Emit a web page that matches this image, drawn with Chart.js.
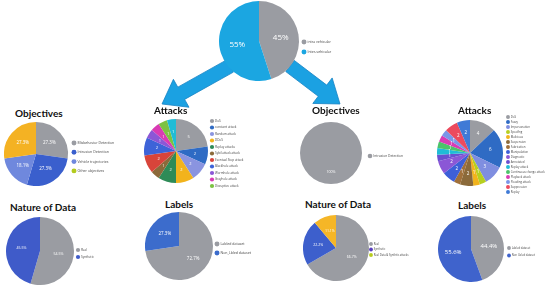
<!DOCTYPE html>
<html>
<head>
<meta charset="utf-8">
<script src="https://cdn.jsdelivr.net/npm/chart.js@4.4.1/dist/chart.umd.min.js"></script>
<style>
  body { margin: 0; width: 550px; height: 290px; background: #fff; position: relative; overflow: hidden; }
  canvas { position: absolute; }
  .title { position: absolute; font-family: Lato, sans-serif; font-weight: 700; font-size: 10px; line-height: 1; color: #111; white-space: nowrap; }
  #arrows { position: absolute; left: 0; top: 0; }
</style>
</head>
<body>
<svg id="arrows" width="550" height="290"></svg>
<canvas id="vehicular"></canvas>
<canvas id="objA"></canvas>
<canvas id="attA"></canvas>
<canvas id="objB"></canvas>
<canvas id="attB"></canvas>
<canvas id="natA"></canvas>
<canvas id="labA"></canvas>
<canvas id="natB"></canvas>
<canvas id="labB"></canvas>
<div class="title" style="left:15px;top:108px">Objectives</div>
<div class="title" style="left:154px;top:105px">Attacks</div>
<div class="title" style="left:312px;top:105px">Objectives</div>
<div class="title" style="left:458px;top:105px">Attacks</div>
<div class="title" style="left:10px;top:202px">Nature of Data</div>
<div class="title" style="left:165px;top:199px">Labels</div>
<div class="title" style="left:305px;top:199px">Nature of Data</div>
<div class="title" style="left:458px;top:200px">Labels</div>
<script>
// --- data ---
const vehicularLabels = ["intra vehicular", "Inter-vehicular"];
const vehicularValues = [45, 55];

const objALabels = ["Misbehavior Detection", "Intrusion Detection", "Vehicle trajectories", "Other objectives"];
const objAValues = [27.3, 27.3, 18.1, 27.3];

const attALabels = ["DoS", "constant attack", "Random attack", "DDoS", "Replay attacks", "Sybil attack attack",
  "Eventual Stop attack", "Blackhole attack", "Wormhole attack", "Grayhole attack", "Disruptive attack", ""];
const attAValues = [5, 2, 2, 2, 2, 1, 2, 2, 1, 1, 1, 1];

const objBLabels = ["Intrusion Detection"];
const objBValues = [100];

const attBLabels = ["DoS", "Fuzzy", "Impersonation", "Spoofing", "Malicious", "Suspension", "Fabrication",
  "Manipulation", "Diagnostic", "Annotated", "Replay attack", "Continuous change attack", "Playback attack",
  "Flooding attack", "Suppression", "Replay"];
const attBValues = [4, 6, 3, 1, 1, 2, 1, 2, 2, 1, 1, 1, 1, 1, 2, 2];

const natALabels = ["Real", "Synthetic"];
const natAValues = [54.5, 45.5];

const labALabels = ["Labled dataset", "Non_Lbled dataset"];
const labAValues = [72.7, 27.3];

const natBLabels = ["Real", "Synthetic", "Real Data & Synthtic attacks"];
const natBValues = [66.7, 22.2, 11.1];

const labBLabels = ["Labled dataset", "Non_Lbled dataset"];
const labBValues = [44.4, 55.6];

// --- styles ---
const GRAY = "#9a9ca2";
const pct0 = (v) => v + "%";
const pct1 = (v) => v.toFixed(1) + "%";
const count = (v) => String(v);

// legend keeps a fixed width and can be nudged to its place
const fixedLegend = {
  id: "fixedLegend",
  beforeInit(chart, args, opts) {
    const legend = chart.legend;
    const fit = legend.fit;
    legend.fit = function () {
      fit.call(this);
      this.width = opts.width;
    };
    const draw = legend.draw;
    legend.draw = function () {
      const c = this.ctx;
      c.save();
      c.translate(opts.dx, opts.dy);
      draw.call(this);
      c.restore();
    };
  }
};

// white value texts inside the slices
const sliceLabels = {
  id: "sliceLabels",
  afterDatasetsDraw(chart, args, opts) {
    const ctx = chart.ctx;
    const meta = chart.getDatasetMeta(0);
    ctx.save();
    ctx.fillStyle = "#fff";
    ctx.font = opts.size + "px 'Open Sans'";
    ctx.textAlign = "center";
    ctx.textBaseline = "middle";
    meta.data.forEach((arc, i) => {
      const a = (arc.startAngle + arc.endAngle) / 2;
      const rr = arc.outerRadius * opts.dist;
      ctx.fillText(opts.texts[i], arc.x + Math.cos(a) * rr, arc.y + Math.sin(a) * rr);
    });
    ctx.restore();
  }
};

const make_pie = (id, labels, values, colors, o) => {
  const canvas = document.getElementById(id);
  const pad = o.sp - o.fs;
  const n = labels.filter((l) => l !== "").length;
  const h = Math.max(2 * o.r, n * o.sp + 2 * pad + 4);
  const top = o.cy - h / 2;
  canvas.width = 2 * o.r + o.lw;
  canvas.height = h;
  canvas.style.left = (o.cx - o.r) + "px";
  canvas.style.top = top + "px";
  const firstY = top + (pad + h - n * (o.fs + pad)) / 2 + o.fs / 2;
  const firstX = o.cx + o.r + pad + o.fs / 2;
  return new Chart(canvas, {
    type: "pie",
    data: {
      labels: labels,
      datasets: [{ data: values, backgroundColor: colors, borderWidth: 0, hoverOffset: 0 }]
    },
    options: {
      responsive: false,
      animation: false,
      events: [],
      layout: { padding: 0 },
      plugins: {
        tooltip: { enabled: false },
        legend: {
          position: "right",
          labels: {
            usePointStyle: true,
            pointStyle: "circle",
            font: { family: "Open Sans", size: o.fs },
            color: "#444",
            padding: pad,
            filter: (item) => item.text !== "",
            generateLabels: (chart) => {
              const items = Chart.overrides.pie.plugins.legend.labels.generateLabels(chart);
              if (o.legendColors) {
                items.forEach((it, i) => { it.fillStyle = o.legendColors[i]; it.strokeStyle = o.legendColors[i]; });
              }
              return items;
            }
          }
        },
        fixedLegend: { width: o.lw, dx: o.lx - firstX, dy: o.ly - firstY },
        sliceLabels: { size: o.ls, dist: o.dist || 0.55, texts: values.map(o.fmt) }
      }
    },
    plugins: [fixedLegend, sliceLabels]
  });
};

make_pie("vehicular", vehicularLabels, vehicularValues, [GRAY, "#1ba6e1"],
  { cx: 259, cy: 41, r: 40, lw: 50, fs: 3.5, sp: 10, lx: 304, ly: 42, ls: 8, fmt: pct0 });

make_pie("objA", objALabels, objAValues, [GRAY, "#3a5fcd", "#6f88dd", "#f4b223"],
  { cx: 36, cy: 154, r: 32, lw: 75, fs: 3.5, sp: 9.3, lx: 74, ly: 143, ls: 4.5, fmt: pct1,
    legendColors: [GRAY, "#3a5fcd", "#6f88dd", "#b3cb1e"] });

make_pie("attA", attALabels, attAValues,
  [GRAY, "#2f6bc4", "#8a94e0", "#f2b31c", "#2e8b57", "#8b6a3a", "#d8443a", "#3d63d8", "#8b57d6", "#d93bb4", "#7cc242", "#20bcd6"],
  { cx: 176, cy: 151, r: 32, lw: 50, fs: 3, sp: 6.5, lx: 212, ly: 121, ls: 4, fmt: count, dist: 0.6 });

make_pie("objB", objBLabels, objBValues, [GRAY],
  { cx: 331, cy: 153, r: 31, lw: 55, fs: 3.3, sp: 9, lx: 370, ly: 156, ls: 3.5, fmt: pct0, dist: 0.6 });

make_pie("attB", attBLabels, attBValues,
  [GRAY, "#2f6bc4", "#7f8ee0", "#b7cf20", "#f2b31c", "#8b6a3a", "#a0703a", "#3d5fd8", "#8b57d6", "#6a4fd0",
   "#20bcd6", "#4cc36a", "#d93bb4", "#7a95e8", "#ec4a5e", "#3f7ad6"],
  { cx: 470, cy: 153, r: 33, lw: 45, fs: 2.8, sp: 5, lx: 508, ly: 117, ls: 4.5, fmt: count, dist: 0.62 });

make_pie("natA", natALabels, natAValues, [GRAY, "#3f5bc9"],
  { cx: 40, cy: 251, r: 34, lw: 35, fs: 3, sp: 7, lx: 78, ly: 250, ls: 3.5, fmt: pct1 });

make_pie("labA", labALabels, labAValues, [GRAY, "#3c6ccc"],
  { cx: 179, cy: 246, r: 34, lw: 55, fs: 3.5, sp: 9, lx: 217, ly: 244, ls: 4.5, fmt: pct1 });

make_pie("natB", natBLabels, natBValues, [GRAY, "#3d5fcc", "#f5b627"],
  { cx: 336, cy: 248, r: 33, lw: 45, fs: 2.7, sp: 5.5, lx: 371, ly: 244, ls: 3.5, fmt: pct1,
    legendColors: [GRAY, "#5a3fc0", "#b8cc1e"] });

make_pie("labB", labBLabels, labBValues, [GRAY, "#3f63cc"],
  { cx: 471, cy: 249, r: 33, lw: 40, fs: 2.7, sp: 7.5, lx: 509, ly: 248, ls: 6, fmt: pct1 });

// blue arrows from the top pie
const arrow = (x1, y1, x2, y2, shaft, headW, headL) => {
  const len = Math.hypot(x2 - x1, y2 - y1);
  const ux = (x2 - x1) / len, uy = (y2 - y1) / len;
  const px = -uy, py = ux;
  const bx = x2 - ux * headL, by = y2 - uy * headL;
  const pts = [
    [x1 + px * shaft / 2, y1 + py * shaft / 2],
    [bx + px * shaft / 2, by + py * shaft / 2],
    [bx + px * headW / 2, by + py * headW / 2],
    [x2, y2],
    [bx - px * headW / 2, by - py * headW / 2],
    [bx - px * shaft / 2, by - py * shaft / 2],
    [x1 - px * shaft / 2, y1 - py * shaft / 2]
  ];
  return '<polygon points="' + pts.map((p) => p.join(",")).join(" ") +
    '" fill="#1ba1e2" stroke="#1683c4" stroke-width="0.8"/>';
};
document.getElementById("arrows").innerHTML =
  arrow(230, 66, 162, 104, 14, 32, 22) + arrow(290, 66, 340, 104, 14, 32, 22);
</script>
</body>
</html>
